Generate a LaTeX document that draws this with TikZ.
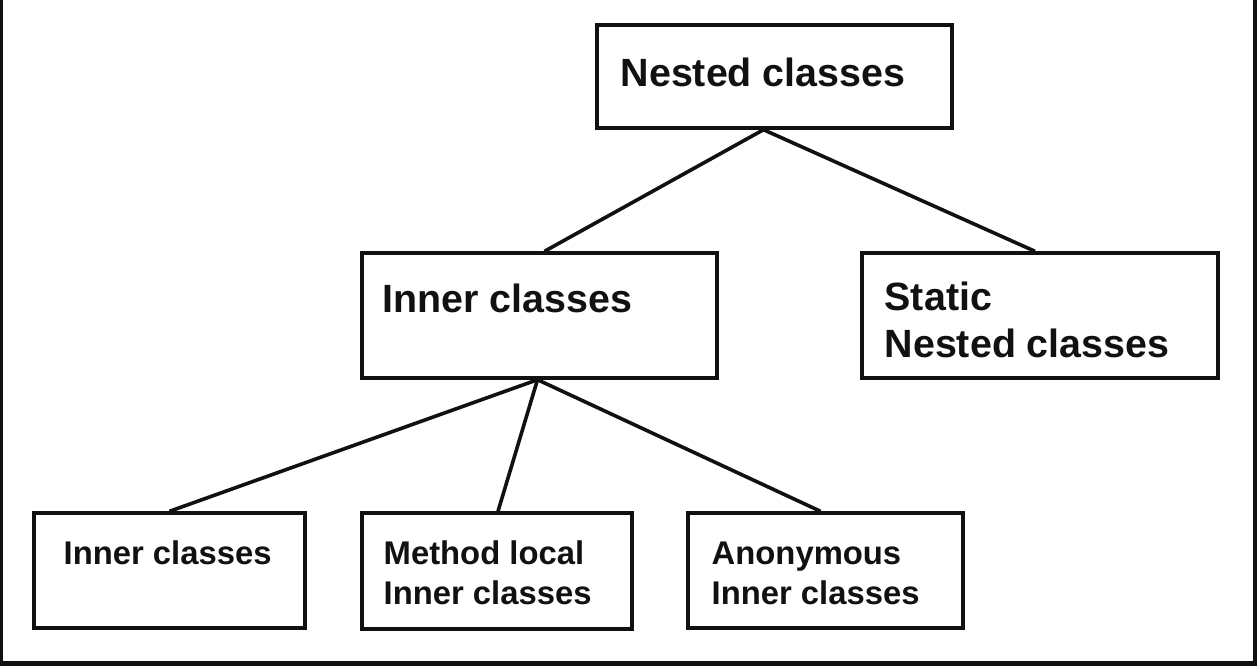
\documentclass[tikz,border=0pt]{standalone}
\usepackage{fontspec}
\setmainfont{Liberation Sans}
\usetikzlibrary{calc}
\definecolor{ink}{HTML}{111111}
\begin{document}
\begin{tikzpicture}[x=0.5pt,y=-0.5pt,
  box/.style={draw=ink,line width=1.7pt,rectangle,inner sep=0pt},
  bigtxt/.style={anchor=base west,inner sep=0pt,align=left,text=ink,
    font=\fontsize{19.7pt}{23.6pt}\selectfont\bfseries},
  smalltxt/.style={anchor=base west,inner sep=0pt,align=left,text=ink,
    font=\fontsize{16.4pt}{19.7pt}\selectfont\bfseries},
  conn/.style={draw=ink,line width=1.8pt}]
\useasboundingbox (0,0) rectangle (1257,666);
\fill[white] (0,0) rectangle (1257,666);
% frame
\fill[ink] (0,0) rectangle (3,666);
\fill[ink] (1253,0) rectangle (1257,666);
\fill[ink] (0,661) rectangle (1257,666);
% boxes
\node[box,minimum width=177.5pt,minimum height=51.5pt] (top) at (774.5,76.5) {};
\node[box,minimum width=177.5pt,minimum height=62.5pt] (mid) at (539.5,315.5) {};
\node[box,minimum width=178pt,minimum height=62.5pt] (static) at (1040,315.5) {};
\node[box,minimum width=135.5pt,minimum height=57.5pt] (b1) at (169.5,570.5) {};
\node[box,minimum width=135pt,minimum height=58pt] (b2) at (497,571) {};
\node[box,minimum width=137.5pt,minimum height=57.5pt] (b3) at (825.5,570.5) {};
% texts (base anchor = baseline of last line)
\node[bigtxt] (ttop) at ($(top.north west)+(25,63)$) {Nested classes};
\node[bigtxt] (tmid) at ($(mid.north west)+(22,61)$) {Inner classes};
\node[bigtxt] (tstatic) at ($(static.north west)+(24,106)$) {Static\\Nested classes};
\node[smalltxt] (tb1) at ($(b1.north west)+(31,53)$) {Inner classes};
\node[smalltxt] (tb2) at ($(b2.north west)+(23,93)$) {Method local\\Inner classes};
\node[smalltxt] (tb3) at ($(b3.north west)+(25,93)$) {Anonymous\\Inner classes};
% connectors
\coordinate (apex1) at ($(top.south)+(-11,0)$);
\coordinate (apex2) at ($(mid.south)+(-2,0)$);
\draw[conn] (apex1) -- ($(mid.north)+(5,0)$);
\draw[conn] (apex1) -- ($(static.north)+(-5,0)$);
\draw[conn] (apex2) -- (b1.north);
\draw[conn] (apex2) -- ($(b2.north)+(1,0)$);
\draw[conn] (apex2) -- ($(b3.north)+(-5,0)$);
\end{tikzpicture}
\end{document}
